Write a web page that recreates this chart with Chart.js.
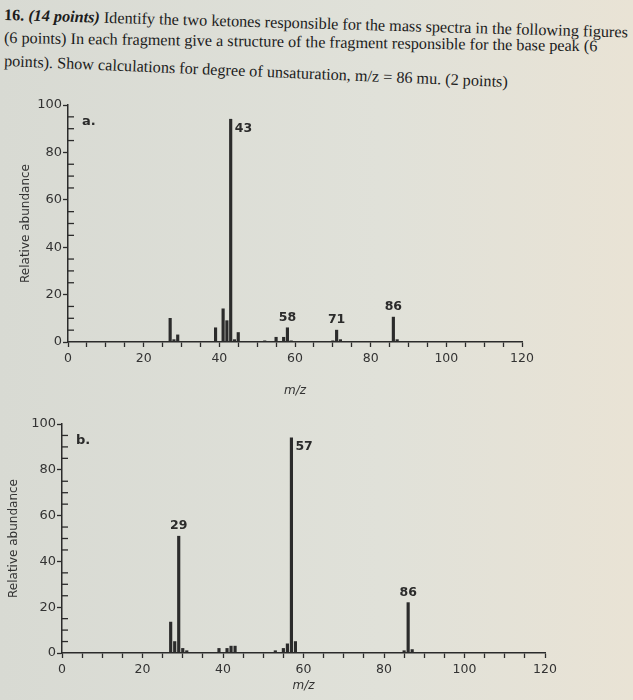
<!DOCTYPE html>
<html>
<head>
<meta charset="utf-8">
<script src="https://cdn.jsdelivr.net/npm/chart.js@4"></script>
<style>
  body { margin: 0; width: 633px; height: 700px; overflow: hidden;
         background: linear-gradient(90deg, #d8dad3 0%, #e0e1d9 60%, #e9e3d5 100%); }
  #q { position: absolute; left: 4px; top: 6px; font-family: "Liberation Serif", serif;
       font-size: 16.2px; color: #1c1c1c; white-space: nowrap; }
  #q div { transform-origin: 0 50%; height: 23px; }
  canvas { position: absolute; left: 0; }
  #ca { top: 95px; }
  #cb { top: 415px; }
</style>
</head>
<body>
<div id="q">
  <div style="transform: rotate(1.6deg)"><b>16.</b> <b><i>(14 points)</i></b> Identify the two ketones responsible for the mass spectra in the following figures</div>
  <div style="transform: rotate(0.8deg)">(6 points) In each fragment give a structure of the fragment responsible for the base peak (6</div>
  <div style="transform: rotate(2.4deg)">points). Show calculations for degree of unsaturation, m/z = 86 mu. (2 points)</div>
</div>
<canvas id="ca" width="600" height="307"></canvas>
<canvas id="cb" width="633" height="282"></canvas>
<script>
// spectrum a
const mzA = [27, 28, 29, 39, 41, 42, 43, 44, 45, 52, 55, 57, 58, 59, 70, 71, 72, 86, 87];
const abA = [10, 1, 3, 6, 14, 9, 94, 1, 4, 0.5, 2, 2, 6, 0.5, 0.5, 5, 1, 10.5, 1];
const peaksA = [43, 58, 71, 86];
// spectrum b
const mzB = [27, 28, 29, 30, 31, 39, 41, 42, 43, 53, 55, 56, 57, 58, 85, 86, 87];
const abB = [13.5, 5, 51, 2, 1, 2, 2, 3, 3, 1, 2, 4, 94, 5, 1, 22, 1.5];
const peaksB = [57, 29, 86];
const xTicks = [0, 20, 40, 60, 80, 100, 120];
const yTicks = [0, 20, 40, 60, 80, 100];

const ink = '#2b2b2b';

// little inward ticks on the y axis + peak numbers + panel letter
const decor = {
    id: 'decor',
    afterDatasetsDraw(chart, args, o) {
        const ctx = chart.ctx;
        const y = chart.scales.y, area = chart.chartArea;
        ctx.save();
        ctx.strokeStyle = ink;
        ctx.lineWidth = 1.3;
        for (let v = 5; v < 100; v += 5) {
            if (yTicks.includes(v)) continue;
            const py = y.getPixelForValue(v);
            ctx.beginPath();
            ctx.moveTo(area.left, py);
            ctx.lineTo(area.left + 6, py);
            ctx.stroke();
        }
        const meta = chart.getDatasetMeta(0);
        const pts = chart.data.datasets[0].data;
        ctx.fillStyle = ink;
        ctx.font = 'bold 12.5px "DejaVu Sans"';
        o.peaks.forEach(m => {
            const el = meta.data[pts.findIndex(p => p.x === m)];
            if (m === o.base) {
                ctx.textAlign = 'left';
                ctx.textBaseline = 'top';
                ctx.fillText(m, el.x + 4, el.y + 3);
            } else {
                ctx.textAlign = 'center';
                ctx.textBaseline = 'bottom';
                ctx.fillText(m, el.x, el.y - 4);
            }
        });
        ctx.font = 'bold 13px "DejaVu Sans"';
        ctx.textAlign = 'left';
        ctx.textBaseline = 'top';
        ctx.fillText(o.letter, area.left + 14, area.top + 10);
        ctx.restore();
    }
};

function spectrum(id, mz, ab, peaks, base, letter, pad, xh, titleOff) {
    new Chart(document.getElementById(id), {
        type: 'bar',
        data: {
            datasets: [{
                data: mz.map((m, i) => ({ x: m, y: ab[i] })),
                backgroundColor: ink,
                barThickness: 2.5
            }]
        },
        options: {
            responsive: false,
            animation: false,
            layout: { padding: pad },
            plugins: {
                legend: { display: false },
                tooltip: { enabled: false },
                decor: { peaks: peaks, base: base, letter: letter }
            },
            scales: {
                x: {
                    type: 'linear', min: 0, max: 120, offset: false,
                    afterFit: s => { s.height = xh; },
                    border: { color: ink, width: 1.5 },
                    grid: { drawOnChartArea: false, offset: false, tickLength: 5, tickColor: ink, tickWidth: 1.3 },
                    ticks: {
                        stepSize: 5, autoSkip: false, maxRotation: 0, padding: 4,
                        color: '#333', font: { family: 'DejaVu Sans', size: 12.5 },
                        callback: v => xTicks.includes(v) ? v : ''
                    },
                    title: {
                        display: true, text: 'm/z', color: '#333',
                        font: { family: 'DejaVu Sans', size: 12, style: 'italic' }
                    }
                },
                y: {
                    min: 0, max: 100,
                    afterFit: s => { s.width = pad.yw; },
                    border: { color: ink, width: 1.5 },
                    grid: {
                        drawOnChartArea: false, tickLength: 5, tickWidth: 1.3,
                        tickColor: c => yTicks.includes(c.tick.value) ? ink : 'rgba(0,0,0,0)'
                    },
                    ticks: {
                        stepSize: 5, autoSkip: false, padding: 1,
                        color: '#333', font: { family: 'DejaVu Sans', size: 13 },
                        callback: v => yTicks.includes(v) ? v : ''
                    },
                    title: {
                        display: true, text: 'Relative abundance', color: '#333',
                        padding: { top: titleOff, bottom: 0 },
                        font: { family: 'DejaVu Sans', size: 12 }
                    }
                }
            }
        },
        plugins: [decor]
    });
}

spectrum('ca', mzA, abA, peaksA, 43, 'a.', { left: 0, top: 10, right: 78, bottom: 0, yw: 68 }, 60, 19);
spectrum('cb', mzB, abB, peaksB, 57, 'b.', { left: 0, top: 9, right: 88, bottom: 0, yw: 62 }, 44, 7);
</script>
</body>
</html>
